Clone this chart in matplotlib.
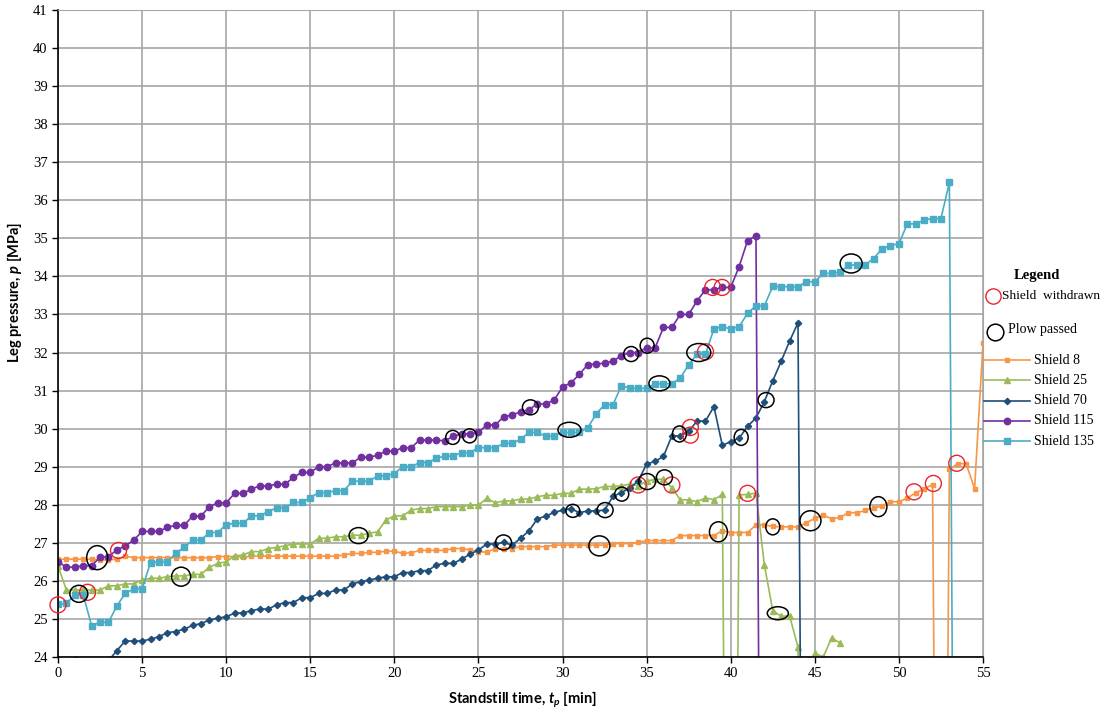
import numpy as np
import matplotlib.pyplot as plt
from matplotlib.patches import Ellipse
from matplotlib.lines import Line2D

plt.rcParams['font.family'] = ['Liberation Serif', 'DejaVu Serif']
plt.rcParams['mathtext.fontset'] = 'custom'
plt.rcParams['mathtext.it'] = 'Lato:italic:bold'
plt.rcParams['mathtext.rm'] = 'Lato:bold'

# readings taken every half minute; 0 = sensor dropped out
step = 0.5

shield_8 = [26.57, 26.57, 26.57, 26.57, 26.57, 26.55, 26.55, 26.57, 26.65, 26.61,
            26.61, 26.61, 26.61, 26.61, 26.61, 26.61, 26.61, 26.61, 26.61, 26.64,
            26.64, 26.64, 26.62, 26.65, 26.65, 26.65, 26.65, 26.65, 26.65, 26.65,
            26.65, 26.65, 26.65, 26.65, 26.68, 26.72, 26.72, 26.75, 26.75, 26.78,
            26.78, 26.72, 26.74, 26.80, 26.80, 26.80, 26.80, 26.85, 26.85, 26.81,
            26.77, 26.75, 26.85, 26.85, 26.85, 26.90, 26.90, 26.90, 26.90, 26.94,
            26.94, 26.94, 26.94, 26.94, 26.94, 26.94, 26.98, 26.98, 26.98, 27.01,
            27.06, 27.06, 27.06, 27.06, 27.19, 27.19, 27.19, 27.19, 27.19, 27.32,
            27.27, 27.27, 27.27, 27.47, 27.47, 27.43, 27.42, 27.42, 27.42, 27.53,
            27.64, 27.73, 27.63, 27.67, 27.79, 27.79, 27.85, 27.92, 27.96, 28.08,
            28.08, 28.18, 28.31, 28.42, 28.53, 0.0, 28.93, 29.08, 29.08, 28.42,
            32.25]

shield_25 = [26.39, 25.76, 25.76, 25.76, 25.76, 25.76, 25.87, 25.87, 25.92, 25.92,
             26.02, 26.07, 26.07, 26.11, 26.13, 26.13, 26.17, 26.17, 26.36, 26.46,
             26.50, 26.66, 26.68, 26.77, 26.77, 26.85, 26.88, 26.92, 26.97, 26.97,
             26.97, 27.12, 27.12, 27.16, 27.16, 27.20, 27.20, 27.25, 27.29, 27.60,
             27.71, 27.71, 27.86, 27.90, 27.90, 27.95, 27.95, 27.95, 27.95, 27.99,
             27.99, 28.17, 28.05, 28.10, 28.10, 28.15, 28.15, 28.21, 28.25, 28.25,
             28.30, 28.30, 28.41, 28.41, 28.42, 28.48, 28.48, 28.50, 28.54, 28.50,
             28.62, 28.67, 28.67, 28.45, 28.13, 28.13, 28.08, 28.18, 28.13, 28.27,
             0.0, 28.26, 28.27, 28.31, 26.42, 25.22, 25.07, 25.08, 24.26, 0.0,
             24.10, 24.00, 24.50, 24.37]

shield_70 = [23.60, 23.75, 23.93, 23.80, 23.75, 23.80, 23.90, 24.17, 24.42, 24.42,
             24.42, 24.47, 24.53, 24.64, 24.67, 24.73, 24.83, 24.88, 24.97, 25.02,
             25.06, 25.15, 25.16, 25.22, 25.26, 25.26, 25.37, 25.43, 25.43, 25.56,
             25.56, 25.67, 25.67, 25.76, 25.76, 25.92, 25.98, 26.02, 26.07, 26.11,
             26.11, 26.22, 26.22, 26.27, 26.27, 26.42, 26.46, 26.46, 26.57, 26.70,
             26.81, 26.97, 26.97, 27.01, 26.94, 27.12, 27.31, 27.63, 27.70, 27.80,
             27.86, 27.90, 27.79, 27.84, 27.84, 27.86, 28.22, 28.32, 28.44, 28.63,
             29.07, 29.14, 29.27, 29.81, 29.81, 29.93, 30.20, 30.20, 30.58, 29.56,
             29.66, 29.75, 30.06, 30.28, 30.71, 31.26, 31.77, 32.30, 32.78, 0.0]

shield_115 = [26.50, 26.36, 26.36, 26.40, 26.40, 26.62, 26.64, 26.81, 26.92, 27.07,
              27.30, 27.30, 27.30, 27.41, 27.46, 27.46, 27.70, 27.70, 27.95, 28.05,
              28.05, 28.30, 28.30, 28.41, 28.50, 28.50, 28.54, 28.54, 28.72, 28.85,
              28.85, 29.00, 29.00, 29.10, 29.10, 29.10, 29.25, 29.25, 29.30, 29.41,
              29.41, 29.50, 29.50, 29.70, 29.70, 29.70, 29.68, 29.80, 29.86, 29.86,
              29.90, 30.10, 30.10, 30.31, 30.36, 30.44, 30.50, 30.65, 30.65, 30.75,
              31.10, 31.20, 31.43, 31.68, 31.70, 31.72, 31.77, 31.92, 32.00, 32.00,
              32.13, 32.12, 32.66, 32.66, 33.00, 33.00, 33.36, 33.65, 33.65, 33.71,
              33.71, 34.26, 34.94, 35.07, 0.0]

shield_135 = [25.38, 25.41, 25.63, 25.63, 24.82, 24.91, 24.91, 25.34, 25.67, 25.79,
              25.79, 26.48, 26.50, 26.50, 26.72, 26.88, 27.07, 27.07, 27.27, 27.27,
              27.48, 27.51, 27.51, 27.71, 27.71, 27.82, 27.92, 27.92, 28.06, 28.06,
              28.19, 28.32, 28.32, 28.37, 28.37, 28.62, 28.62, 28.62, 28.76, 28.76,
              28.82, 29.00, 29.00, 29.11, 29.11, 29.22, 29.28, 29.28, 29.37, 29.37,
              29.50, 29.50, 29.50, 29.61, 29.61, 29.72, 29.90, 29.90, 29.80, 29.80,
              29.90, 29.90, 29.90, 30.02, 30.39, 30.63, 30.63, 31.13, 31.06, 31.06,
              31.06, 31.18, 31.18, 31.18, 31.33, 31.68, 31.96, 31.96, 32.62, 32.68,
              32.62, 32.68, 33.03, 33.23, 33.23, 33.74, 33.73, 33.73, 33.73, 33.86,
              33.86, 34.08, 34.08, 34.11, 34.29, 34.31, 34.31, 34.47, 34.73, 34.81,
              34.86, 35.38, 35.38, 35.48, 35.52, 35.52, 36.47, 0.0]

# "Shield withdrawn" marks (red) and "Plow passed" marks (black)
withdrawn_t = [0.0, 1.76, 3.6, 34.5, 36.5, 37.6, 37.6, 41.0, 38.93, 39.49, 38.5, 50.9, 52.05, 53.44]
withdrawn_p = [25.37, 25.7, 26.8, 28.52, 28.52, 30.03, 29.83, 28.3, 33.71, 33.71, 32.02, 28.34, 28.56, 29.09]

plow_t = [2.33, 1.24, 7.32, 17.87, 23.47, 24.47, 28.09, 30.41, 26.49, 30.61, 32.53, 32.19, 33.52, 35.03,
          36.06, 34.08, 35.03, 35.76, 38.1, 36.95, 40.62, 42.1, 39.27, 42.5, 44.74, 42.8, 48.78, 47.16]
plow_p = [26.61, 25.66, 26.11, 27.19, 29.77, 29.81, 30.56, 29.97, 27.01, 27.84, 27.86, 26.92, 28.28, 28.61,
          28.72, 31.96, 32.18, 31.19, 32.0, 29.86, 29.77, 30.75, 27.29, 27.42, 27.58, 25.15, 27.95, 34.34]
# drawn size of each black mark, in pixels
plow_w = [21, 18, 19, 19, 14, 14, 16, 23, 16, 14, 16, 21, 14, 17, 16, 15, 14, 21, 24, 14, 14, 16, 18, 14, 21, 21, 17, 22]
plow_h = [24, 17, 19, 16, 14, 14, 15, 15, 15, 13, 15, 20, 14, 16, 15, 15, 15, 15, 18, 16, 16, 15, 20, 16, 20, 13, 20, 19]

series = [
    ('Shield 8', shield_8, '#F79646', 's', 3.2),
    ('Shield 25', shield_25, '#9BBB59', '^', 4.8),
    ('Shield 70', shield_70, '#1F4E79', 'D', 3.2),
    ('Shield 115', shield_115, '#7030A0', 'o', 4.6),
    ('Shield 135', shield_135, '#4BACC6', 's', 4.2),
]

W, H = 1107, 716
fig = plt.figure(figsize=(W / 100, H / 100), dpi=100)
ax = fig.add_axes([58 / W, 1 - 657 / H, 925 / W, 647 / H])

for name, vals, col, mk, ms in series:
    t = np.arange(len(vals)) * step
    ax.plot(t, vals, color=col, lw=1.2, marker=mk, ms=ms, mec=col, mfc=col, label=name)

# pixel -> data scale for the hand-drawn marks
sx = 55 / 925
sy = 17 / 647
for x, y in zip(withdrawn_t, withdrawn_p):
    ax.add_patch(Ellipse((x, y), 16 * sx, 16 * sy, fill=False, ec='#E8262B', lw=1.0, zorder=5, clip_on=False))
for x, y, w, h in zip(plow_t, plow_p, plow_w, plow_h):
    ax.add_patch(Ellipse((x, y), w * sx, h * sy, fill=False, ec='black', lw=1.1, zorder=5))

ax.set_xlim(0, 55)
ax.set_ylim(24, 41)
ax.set_xticks(range(0, 56, 5))
ax.set_yticks(range(24, 42))
ax.grid(True, color='#A6A6A6', lw=1.2)
ax.set_axisbelow(True)
for s in ['top', 'right']:
    ax.spines[s].set_color('#A6A6A6')
for s in ['left', 'bottom']:
    ax.spines[s].set_color('black')
    ax.spines[s].set_linewidth(1.2)
ax.tick_params(labelsize=10.5, length=4, width=1, direction='out')

ax.set_xlabel(r'Standstill time, $t_p$ [min]', fontsize=10.5, fontweight='bold', family='Lato')
ax.set_ylabel(r'Leg pressure, $p$ [MPa]', fontsize=10.5, fontweight='bold', family='Lato')
ax.xaxis.set_label_coords(0.502, -0.05)
ax.yaxis.set_label_coords(-0.037, 0.564)

# legend, laid out like the original side box
def fx(px):
    return px / W

def fy(py):
    return 1 - py / H

fig.text(fx(1037), fy(275), 'Legend', ha='center', va='center', fontsize=10.5, fontweight='bold')
fig.add_artist(Line2D([fx(993)], [fy(296)], marker='o', ms=11, mfc='none', mec='#E8262B', mew=1.0))
fig.text(fx(1002), fy(296), 'Shield  withdrawn', ha='left', va='center', fontsize=9.6)
fig.add_artist(Line2D([fx(995)], [fy(332)], marker='o', ms=12, mfc='none', mec='black', mew=1.1))
fig.text(fx(1008), fy(329), 'Plow passed', ha='left', va='center', fontsize=10)
for i, (name, vals, col, mk, ms) in enumerate(series):
    yy = fy(360 + 20.3 * i)
    fig.add_artist(Line2D([fx(984), fx(1030)], [yy, yy], color=col, lw=1.2))
    fig.add_artist(Line2D([fx(1007)], [yy], marker=mk, ms=ms, color=col))
    fig.text(fx(1034), yy, name, ha='left', va='center', fontsize=10)

fig.savefig('out.png', dpi=100)
